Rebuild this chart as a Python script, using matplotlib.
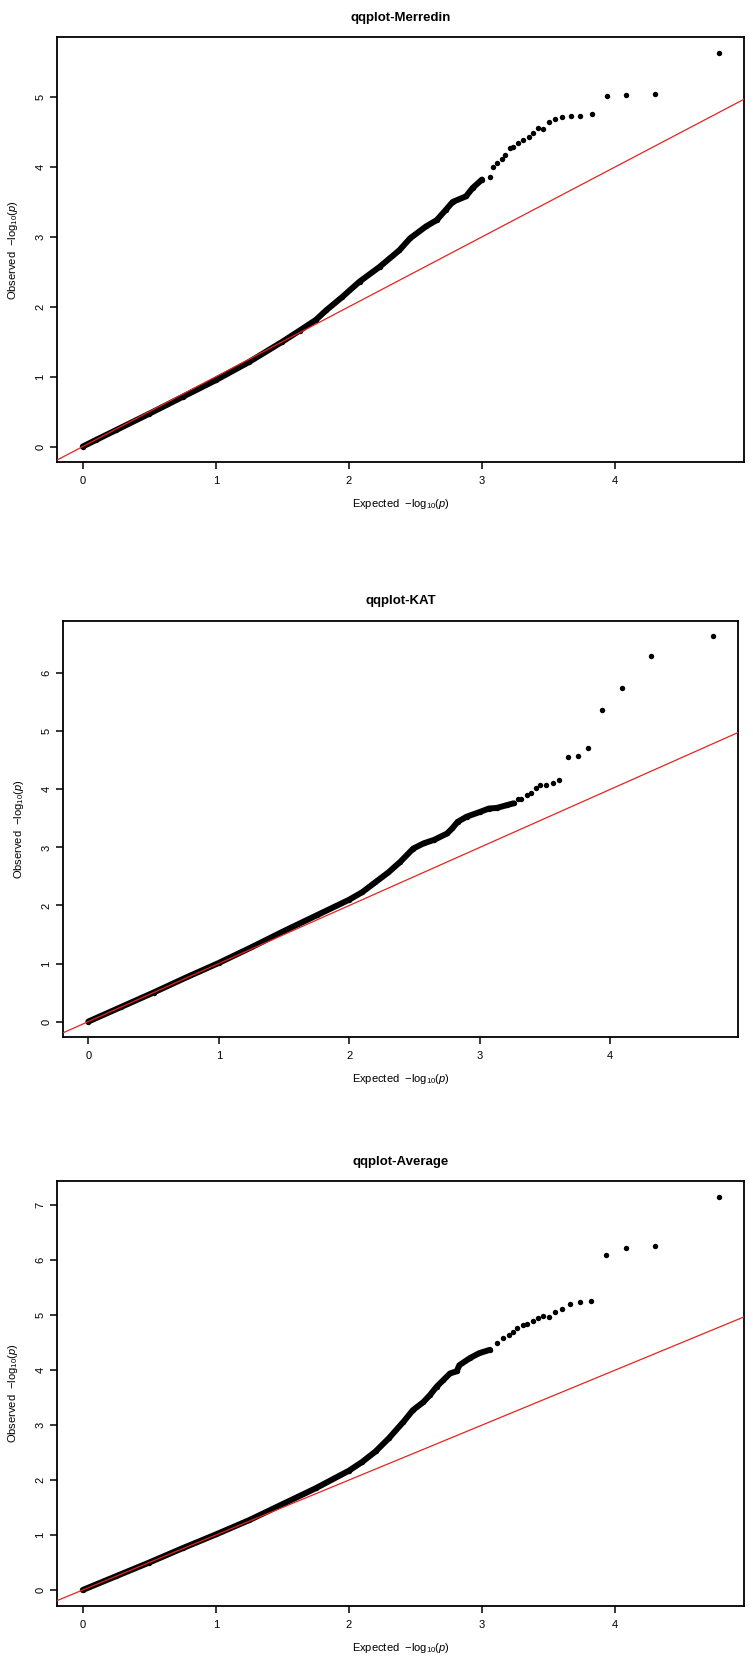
import numpy as np
import matplotlib
matplotlib.use('Agg')
import matplotlib.pyplot as plt

plt.rcParams['font.family'] = ['Liberation Sans', 'DejaVu Sans']
plt.rcParams['mathtext.fontset'] = 'custom'
plt.rcParams['mathtext.rm'] = 'Liberation Sans'
plt.rcParams['mathtext.it'] = 'Liberation Sans:italic'

# Expected / observed -log10(p)
merredin_x = [0, 0.1, 0.25, 0.5, 0.75, 1.0, 1.25, 1.5, 1.63, 1.75, 1.83, 1.95, 2.08, 2.23,
              2.38, 2.46, 2.58, 2.66, 2.73, 2.78, 2.88, 2.93, 3.0,
              3.06, 3.08, 3.11, 3.15, 3.17, 3.21, 3.23, 3.27, 3.31, 3.35, 3.38, 3.42, 3.46,
              3.50, 3.55, 3.60, 3.67, 3.74, 3.83, 3.94, 4.08, 4.30, 4.78]
merredin_y = [0, 0.095, 0.235, 0.47, 0.71, 0.95, 1.21, 1.5, 1.66, 1.81, 1.95, 2.14, 2.36, 2.57,
              2.81, 2.98, 3.15, 3.24, 3.39, 3.5, 3.58, 3.7, 3.82,
              3.86, 4.0, 4.05, 4.12, 4.17, 4.27, 4.29, 4.34, 4.39, 4.43, 4.48, 4.555, 4.55,
              4.64, 4.69, 4.72, 4.73, 4.73, 4.76, 5.01, 5.03, 5.04, 5.63]

kat_x = [0, 0.25, 0.5, 0.75, 1.0, 1.25, 1.5, 1.75, 2.0, 2.1, 2.2, 2.3, 2.39, 2.49, 2.57,
         2.65, 2.75, 2.79, 2.83, 2.90, 3.0, 3.07, 3.13, 3.21, 3.26,
         3.29, 3.32, 3.36, 3.39, 3.43, 3.46, 3.51, 3.56, 3.61, 3.68, 3.75, 3.83, 3.94,
         4.09, 4.31, 4.79]
kat_y = [0, 0.25, 0.5, 0.76, 1.01, 1.28, 1.56, 1.83, 2.1, 2.23, 2.4, 2.57, 2.75, 2.98, 3.07,
         3.13, 3.24, 3.33, 3.44, 3.53, 3.61, 3.67, 3.68, 3.73, 3.76,
         3.83, 3.84, 3.90, 3.93, 4.02, 4.07, 4.08, 4.11, 4.16, 4.55, 4.57, 4.71, 5.36,
         5.75, 6.30, 6.64]

avg_x = [0, 0.25, 0.5, 0.75, 1.0, 1.25, 1.5, 1.75, 2.0, 2.1, 2.2, 2.3, 2.41, 2.48, 2.56,
         2.61, 2.66, 2.71, 2.76, 2.81, 2.83, 2.91, 2.98, 3.06,
         3.11, 3.16, 3.20, 3.23, 3.26, 3.31, 3.34, 3.38, 3.42, 3.46, 3.50, 3.55, 3.60,
         3.66, 3.74, 3.82, 3.93, 4.08, 4.30, 4.78]
avg_y = [0, 0.25, 0.5, 0.76, 1.01, 1.27, 1.56, 1.85, 2.17, 2.33, 2.52, 2.76, 3.06, 3.27, 3.42,
         3.55, 3.70, 3.82, 3.94, 3.98, 4.09, 4.22, 4.31, 4.37,
         4.49, 4.58, 4.64, 4.70, 4.77, 4.82, 4.84, 4.90, 4.95, 4.98, 4.96, 5.06, 5.12,
         5.20, 5.24, 5.25, 6.10, 6.23, 6.25, 7.15]

titles = ['qqplot-Merredin', 'qqplot-KAT', 'qqplot-Average']

W, H = 753, 1661
fig = plt.figure(figsize=(W / 100, H / 100), dpi=100)

# left, top, right, bottom in pixels of the panel boxes
boxes = [(57.3, 37.3, 744.3, 462.3),
         (63.3, 620.7, 738.3, 1037.0),
         (57.3, 1181.3, 744.3, 1605.7)]
dense_cut = [3.0, 3.26, 3.06]

panels = [(merredin_x, merredin_y), (kat_x, kat_y), (avg_x, avg_y)]

for (l, t, r, b), (xs, ys), title, cut in zip(boxes, panels, titles, dense_cut):
    ax = fig.add_axes([l / W, 1 - b / H, (r - l) / W, (b - t) / H])
    xs = np.array(xs)
    ys = np.array(ys)
    dense = xs <= cut
    ax.plot(xs[dense], ys[dense], color='black', lw=4.3, solid_capstyle='round',
            solid_joinstyle='round', zorder=2)
    ax.plot(xs, ys, 'o', color='black', ms=3.9, mew=0, zorder=3)
    ax.axline((0, 0), slope=1, color='#e8231f', lw=0.9, zorder=4)

    xr = xs.max() - xs.min()
    yr = ys.max() - ys.min()
    ax.set_xlim(xs.min() - 0.04 * xr, xs.max() + 0.04 * xr)
    ax.set_ylim(ys.min() - 0.04 * yr, ys.max() + 0.04 * yr)
    ax.set_xticks(range(0, 5))
    ax.set_yticks(range(0, int(ys.max()) + 1))
    for s in ax.spines.values():
        s.set_linewidth(1.3)
    ax.tick_params(direction='out', length=5, width=1.1, labelsize=8, pad=5)
    ax.tick_params(axis='y', pad=3.5)
    for lab in ax.get_yticklabels():
        lab.set_rotation(90)
        lab.set_va('center')
    ax.set_title(title, fontsize=9.5, fontweight='bold', pad=12)
    ax.set_xlabel(r'Expected  $-$log$_{10}$($p$)', fontsize=8, labelpad=8)
    ax.set_ylabel(r'Observed  $-$log$_{10}$($p$)', fontsize=8, labelpad=11)

fig.savefig('out.png', dpi=100)
